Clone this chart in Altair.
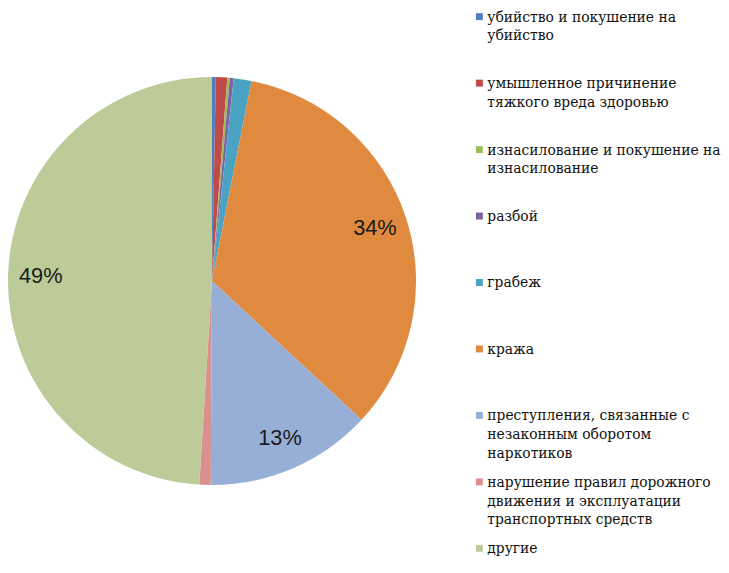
import altair as alt
import pandas as pd

categories = [
    "убийство и покушение на убийство",
    "умышленное причинение тяжкого вреда здоровью",
    "изнасилование и покушение на изнасилование",
    "разбой",
    "грабеж",
    "кража",
    "преступления, связанные с незаконным оборотом наркотиков",
    "нарушение правил дорожного движения и эксплуатации транспортных средств",
    "другие",
]
legend_labels = [
    "убийство и покушение на\nубийство",
    "умышленное причинение\nтяжкого вреда здоровью",
    "изнасилование и покушение на\nизнасилование",
    "разбой",
    "грабеж",
    "кража",
    "преступления, связанные с\nнезаконным оборотом\nнаркотиков",
    "нарушение правил дорожного\nдвижения и эксплуатации\nтранспортных средств",
    "другие",
]
values = [0.3, 0.9, 0.2, 0.3, 1.4, 33.8, 13.2, 0.9, 49.0]
colors = ["#4F7DBF", "#BE4B48", "#9BBB59", "#7F63A0", "#4BA3C3",
          "#E08A40", "#97AED6", "#D9908F", "#BCCB98"]

df = pd.DataFrame({
    "category": categories,
    "legend": legend_labels,
    "value": values,
    "order": list(range(len(categories))),
})

color = alt.Color("category:N", scale=alt.Scale(domain=categories, range=colors), legend=None)

base = alt.Chart(df).encode(
    theta=alt.Theta("value:Q", stack=True),
    order=alt.Order("order:Q"),
)

arcs = base.mark_arc(outerRadius=206).encode(color=color)

labels = base.transform_calculate(
    label="datum.value > 5 ? format(round(datum.value), 'd') + '%' : ''"
).mark_text(radius=173, fontSize=22, font="Liberation Sans", color="#1a1a1a").encode(
    text="label:N"
)

pie = alt.layer(arcs, labels).properties(width=410, height=546)

yscale = alt.Scale(type="point", domain=categories, padding=0.09)

leg_base = alt.Chart(df).encode(
    y=alt.Y("category:N", scale=yscale, axis=None),
)
squares = leg_base.mark_square(size=49, opacity=1).encode(
    x=alt.value(64), color=color
)
texts = leg_base.mark_text(
    align="left", baseline="alphabetic", dy=5, lineBreak="\n",
    fontSize=14, lineHeight=19,
    font="DejaVu Serif",
    color="#111111"
).encode(x=alt.value(72), text="legend:N")

legend = alt.layer(squares, texts).properties(width=308, height=549)

chart = alt.hconcat(pie, legend, spacing=0).properties(
    padding=0
).configure_view(stroke=None)

chart.save("out.html", embed_options={"renderer": "svg", "actions": False})
